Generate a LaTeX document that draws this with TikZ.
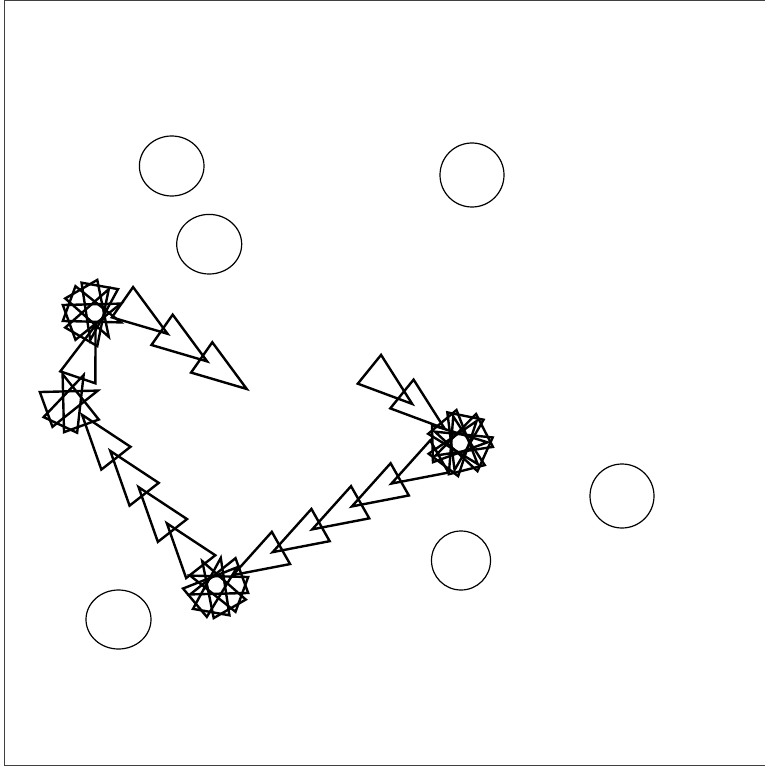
\documentclass[tikz,border=0pt]{standalone}
\begin{document}
\begin{tikzpicture}[x=1pt,y=-1pt,
  tristy/.style={line width=2.4pt,line join=miter},
  tri/.pic={\draw[tristy] (27.5,0) -- (-27.5,18.5) -- (-27.5,-18.5) -- cycle;},
  ring/.style={draw,line width=1.2pt},
  frame/.style={draw=black!75,line width=1pt}]
\useasboundingbox (0,0) rectangle (764,767);
\draw[frame] (4,1) rectangle (767,765);
% circles
\draw[ring] (171.7,166) ellipse [x radius=32.3, y radius=30];
\draw[ring] (209.2,244.2) ellipse [x radius=32.5, y radius=29.8];
\draw[ring] (472,175) ellipse [x radius=32, y radius=32];
\draw[ring] (622,496) ellipse [x radius=32, y radius=32];
\draw[ring] (461,560.5) ellipse [x radius=29.5, y radius=29.5];
\draw[ring] (118.5,619.5) ellipse [x radius=32.5, y radius=29.5];
% corners
\coordinate (s1) at (460,443);
\coordinate (s2) at (216,585);
\coordinate (s3) at (72,400);
\coordinate (s4) at (95,313);
% segment 1
\pic[rotate=-39] at (390.8,386.6) {tri};
\pic[rotate=-39] at (423.3,411.3) {tri};
% star 1
\foreach \k in {0,...,6} \pic[rotate={-(50+\k*360/7)}] at (s1) {tri};
% segment 2
\foreach \p in {(415.4,470),(375.8,492.9),(336.2,515.8),(296.6,538.6),(257,561.5)}
  \pic[rotate=-150.5] at \p {tri};
% star 2
\foreach \k in {0,...,4} \pic[rotate={-(160+\k*40)}] at (s2) {tri};
% segment 3
\foreach \p in {(183.8,545),(155.5,508.8),(127.2,472.6),(99,436.5)}
  \pic[rotate=-232] at \p {tri};
% star 3
\foreach \k in {0,...,2} \pic[rotate={-(250+\k*45)}] at (s3) {tri};
% segment 4
\pic[rotate=-288.8] at (86.7,351.3) {tri};
% star 4
\foreach \k in {0,...,4} \pic[rotate={-(300+\k*40)}] at (s4) {tri};
% segment 5
\foreach \p in {(145,318),(184.6,345.6),(224.2,373.2)}
  \pic[rotate=-35] at \p {tri};
\end{tikzpicture}
\end{document}
